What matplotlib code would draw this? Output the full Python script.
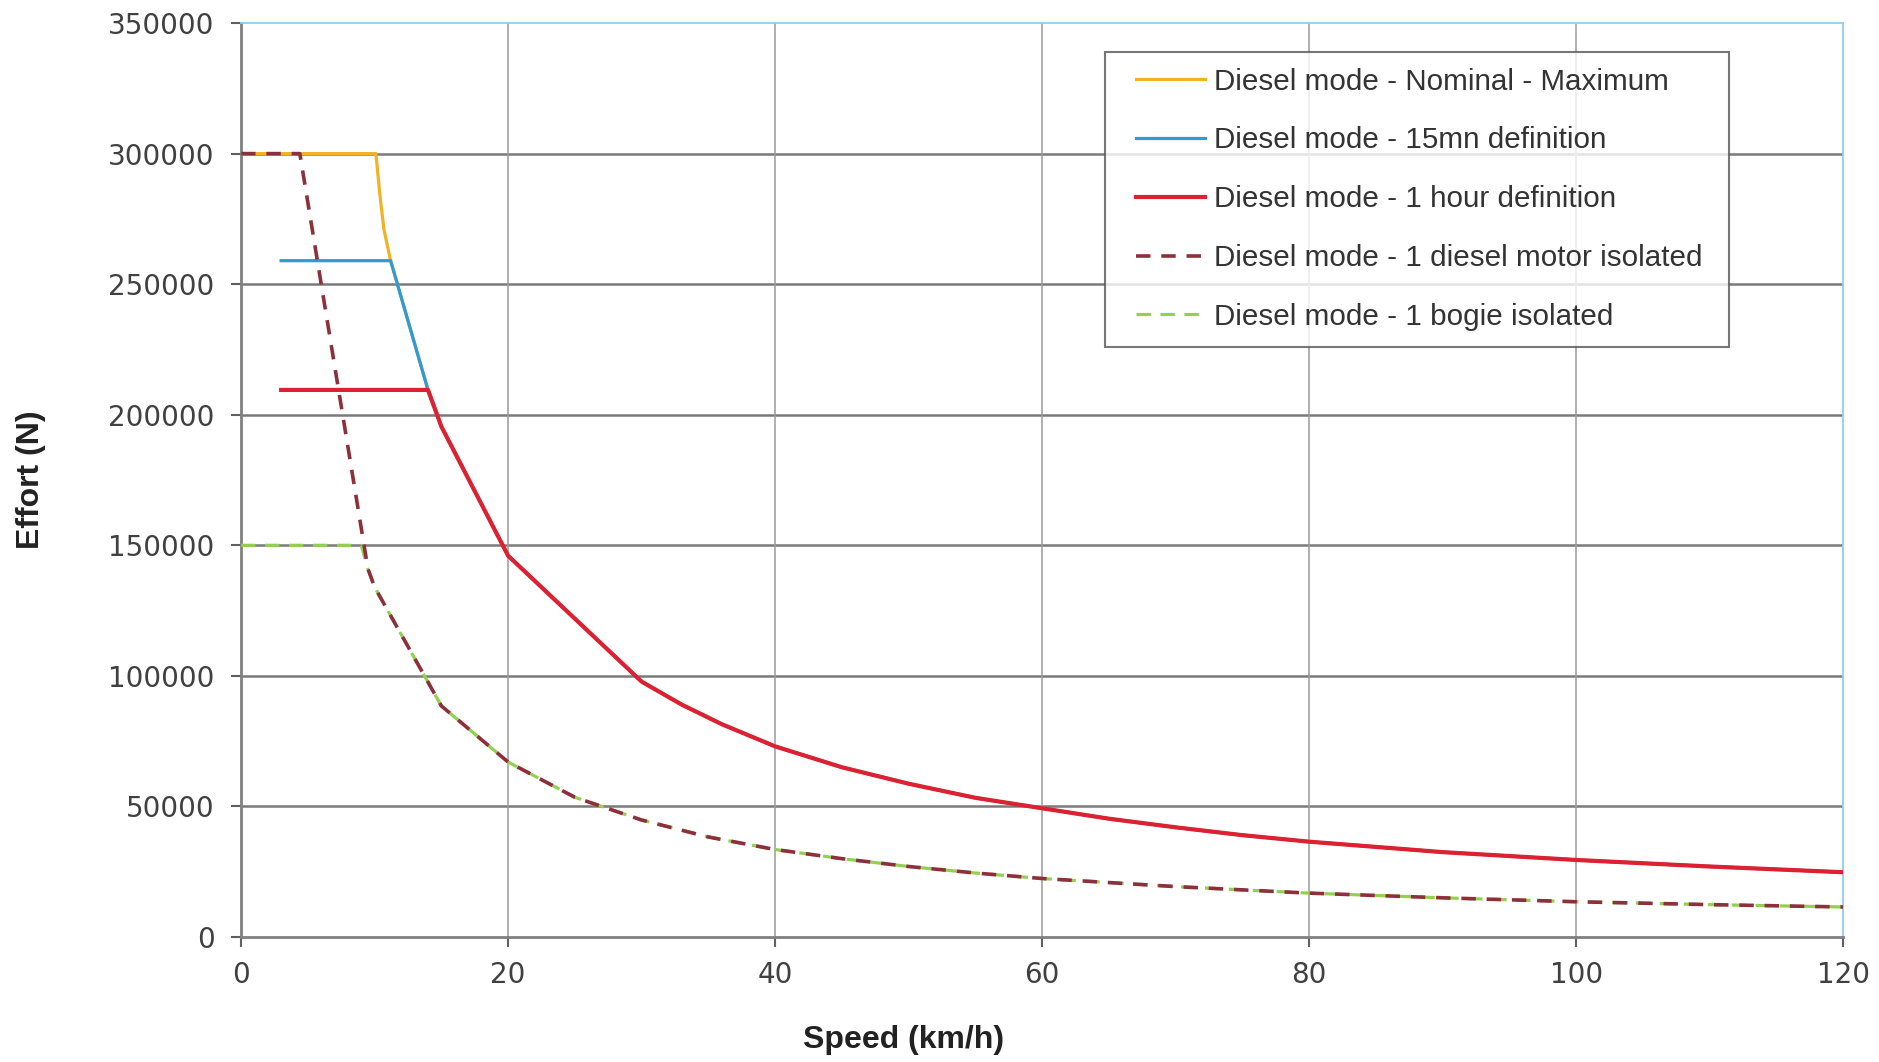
import matplotlib
matplotlib.use('Agg')
import matplotlib.pyplot as plt
from matplotlib import font_manager
from matplotlib.legend_handler import HandlerLine2D

# ---- data ----
speed_nominal = [0, 10.1, 10.4, 10.7, 11.2, 14, 15, 20, 30, 33, 36, 40, 45, 50, 55, 60, 65, 70,
                 75, 80, 90, 100, 110, 120]
effort_nominal = [300000, 300000, 284000, 271000, 259000, 209500, 195500, 146000, 97800, 89000,
                  81500, 73000, 65000, 58700, 53300, 49300, 45300, 42000, 39000, 36500, 32500,
                  29500, 27000, 24800]

speed_15mn = [3, 11.2, 14, 15, 20, 30, 33, 36, 40, 45, 50, 55, 60, 65, 70, 75, 80, 90, 100, 110, 120]
effort_15mn = [259000, 259000, 209500, 195500, 146000, 97800, 89000, 81500, 73000, 65000, 58700,
               53300, 49300, 45300, 42000, 39000, 36500, 32500, 29500, 27000, 24800]

speed_1h = [3, 14, 15, 20, 30, 33, 36, 40, 45, 50, 55, 60, 65, 70, 75, 80, 90, 100, 110, 120]
effort_1h = [209500, 209500, 195500, 146000, 97800, 89000, 81500, 73000, 65000, 58700, 53300,
             49300, 45300, 42000, 39000, 36500, 32500, 29500, 27000, 24800]

speed_motor = [0, 4.4, 9.5, 10, 15, 20, 25, 30, 35, 40, 45, 50, 55, 60, 70, 80, 90, 100, 110, 120]
effort_motor = [300000, 300000, 141000, 134000, 88500, 67000, 53500, 44800, 38300, 33500, 30000,
                27000, 24500, 22400, 19300, 16800, 15000, 13500, 12400, 11500]

speed_bogie = [0, 9.0, 9.5, 10, 15, 20, 25, 30, 35, 40, 45, 50, 55, 60, 70, 80, 90, 100, 110, 120]
effort_bogie = [150000, 150000, 141000, 134000, 88500, 67000, 53500, 44800, 38300, 33500, 30000,
                27000, 24500, 22400, 19300, 16800, 15000, 13500, 12400, 11500]

labels = ["Diesel mode - Nominal - Maximum",
          "Diesel mode - 15mn definition",
          "Diesel mode - 1 hour definition",
          "Diesel mode - 1 diesel motor isolated",
          "Diesel mode - 1 bogie isolated"]

x_ticks = [0, 20, 40, 60, 80, 100, 120]
y_ticks = [0, 50000, 100000, 150000, 200000, 250000, 300000, 350000]

# ---- fonts ----
avail = {f.name for f in font_manager.fontManager.ttflist}
base_font = 'Liberation Sans' if 'Liberation Sans' in avail else 'DejaVu Sans'
plt.rcParams['font.family'] = [base_font, 'DejaVu Sans']

fig = plt.figure(figsize=(18.79, 10.62), dpi=100)
ax = fig.add_axes([0.1283, 0.1177, 0.981 - 0.1283, 0.9783 - 0.1177])

c_yellow = '#f0b323'
c_blue = '#2f9bd6'
c_red = '#dc2232'
c_brown = '#8e2f3c'
c_green = '#92d050'

ax.plot(speed_nominal, effort_nominal, color=c_yellow, lw=2.3, label=labels[0], zorder=3)
ax.plot(speed_15mn, effort_15mn, color=c_blue, lw=2.3, label=labels[1], zorder=4)
ax.plot(speed_1h, effort_1h, color=c_red, lw=3.0, label=labels[2], zorder=5)
l_green, = ax.plot(speed_bogie, effort_bogie, color=c_green, lw=2.3, label=labels[4], zorder=6)
l_green.set_dashes([4.5, 3.0])
l_brown, = ax.plot(speed_motor, effort_motor, color=c_brown, lw=2.6, label=labels[3], zorder=7)
l_brown.set_dashes([4.0, 3.0])

ax.set_xlim(0, 120)
ax.set_ylim(0, 350000)
ax.set_xticks(x_ticks)
ax.set_yticks(y_ticks)
ax.set_xticklabels([str(v) for v in x_ticks], family=['DejaVu Sans'])
ax.set_yticklabels([str(v) for v in y_ticks], family=['DejaVu Sans'])

# grid
for yv in y_ticks[1:-1]:
    ax.axhline(yv, color='#7a7a7a', lw=1.8, zorder=1)
for xv in x_ticks[1:-1]:
    ax.axvline(xv, color='#9a9a9a', lw=1.1, zorder=1)

for s in ['left', 'bottom']:
    ax.spines[s].set_color('#808080')
    ax.spines[s].set_linewidth(2.0)
for s in ['top', 'right']:
    ax.spines[s].set_color('#8fd0ee')
    ax.spines[s].set_linewidth(1.3)

ax.tick_params(axis='both', direction='out', length=7, width=1.5, color='#606060',
               labelsize=20, labelcolor='#404040')
ax.tick_params(axis='y', pad=12)
ax.tick_params(axis='x', pad=10)

ax.set_xlabel('Speed (km/h)', fontsize=23, fontweight='bold', color='#222222')
ax.set_ylabel('Effort (N)', fontsize=23, fontweight='bold', color='#222222')
ax.xaxis.set_label_coords(0.4136, -0.1127)
ax.xaxis.label.set_va('center')
ax.yaxis.set_label_coords(-0.131, 0.5)
ax.yaxis.label.set_va('center')

handles, labs = ax.get_legend_handles_labels()
order = [labs.index(l) for l in labels]
hmap = {h: HandlerLine2D(xpad=0.5) for h in handles}
leg = ax.legend([handles[i] for i in order], [labs[i] for i in order],
                loc='upper left', bbox_to_anchor=(0.5393, 0.9686 - 0.3, 0.3896, 0.3),
                mode='expand', borderaxespad=0,
                fontsize=21.3, frameon=True, fancybox=False, shadow=False,
                handlelength=2.85, handletextpad=0.28, labelspacing=1.04,
                borderpad=0.54, handler_map=hmap)
leg.get_frame().set_edgecolor('#555555')
leg.get_frame().set_linewidth(1.5)
for t in leg.get_texts():
    t.set_color('#333333')
leg.set_zorder(10)

fig.savefig('out.png', dpi=100, facecolor='white')
